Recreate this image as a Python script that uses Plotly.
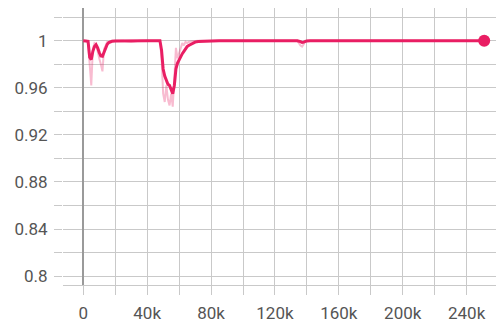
import plotly.graph_objects as go

steps_k = [0, 1, 2, 3, 4, 5, 6, 7, 8, 9, 10, 11, 12, 13, 14, 15, 16, 18, 20, 25, 30, 35, 40, 45,
           48, 49, 50, 51, 52, 53, 54, 55, 56, 57, 58, 59, 60, 61, 62, 63, 64, 65, 66, 68, 70,
           72, 75, 78, 80, 85, 90, 100, 110, 120, 130, 134, 136, 137, 138, 139, 140, 142, 145,
           150, 160, 180, 200, 220, 240, 251]

raw = [1.0, 1.0, 1.0, 0.998, 0.975, 0.962, 0.993, 0.998, 0.997, 0.99, 0.985, 0.98, 0.974,
       0.993, 0.997, 0.999, 0.999, 1.0, 1.0, 1.0, 0.999, 1.0, 1.0, 1.0,
       1.0, 0.985, 0.955, 0.948, 0.962, 0.95, 0.945, 0.955, 0.944, 0.968, 0.994, 0.985, 0.99,
       0.993, 0.998, 0.996, 0.999, 0.998, 0.999, 0.9995, 1.0,
       1.0, 1.0, 1.0, 1.0, 1.0, 1.0, 1.0, 1.0, 1.0, 1.0, 1.0, 0.996, 0.995, 0.997, 1.0, 1.0,
       1.0, 1.0, 1.0, 1.0, 1.0, 1.0, 1.0, 1.0, 1.0]

smoothed = [1.0, 1.0, 1.0, 0.9995, 0.986, 0.984, 0.991, 0.995, 0.9966, 0.994, 0.99, 0.987,
            0.9867, 0.99, 0.994, 0.997, 0.9985, 0.9995, 0.9998, 1.0, 0.9997, 1.0, 1.0, 1.0,
            1.0, 0.992, 0.976, 0.97, 0.966, 0.963, 0.962, 0.958, 0.955, 0.962, 0.976, 0.981,
            0.984, 0.987, 0.989, 0.991, 0.9935, 0.995, 0.996, 0.9975, 0.9988,
            0.9993, 0.9995, 0.9998, 1.0, 1.0, 1.0, 1.0, 1.0, 1.0, 1.0, 1.0, 0.9992, 0.9985,
            0.9988, 0.9995, 0.9998, 1.0, 1.0, 1.0, 1.0, 1.0, 1.0, 1.0, 1.0, 1.0]

steps = [s * 1000 for s in steps_k]
color = "#e91e63"
grid = "#c9c9c9"
font = dict(family="Roboto", size=17, color="#555555")

fig = go.Figure()
fig.add_trace(go.Scatter(x=steps, y=raw, mode="lines",
                         line=dict(color="rgba(233,30,99,0.3)", width=2),
                         hoverinfo="skip", showlegend=False))
fig.add_trace(go.Scatter(x=steps, y=smoothed, mode="lines",
                         line=dict(color=color, width=3),
                         showlegend=False))
fig.add_trace(go.Scatter(x=[steps[-1]], y=[smoothed[-1]], mode="markers",
                         marker=dict(color=color, size=12),
                         cliponaxis=False, showlegend=False))

fig.update_layout(
    width=496, height=318,
    margin=dict(l=55, r=0, t=0, b=41),
    paper_bgcolor="white", plot_bgcolor="white",
    font=font,
)
fig.update_xaxes(
    range=[-12700, 263400], dtick=40000, tick0=0,
    automargin=False,
    showgrid=True, gridcolor=grid, gridwidth=1,
    ticks="outside", ticklen=9, tickcolor=grid, tickwidth=1,
    minor=dict(dtick=20000, showgrid=True, gridcolor=grid, gridwidth=1,
               ticks="outside", ticklen=9, tickcolor=grid),
    showline=True, linecolor=grid, linewidth=1,
    zeroline=True, zerolinecolor="#9a9a9a", zerolinewidth=2,
    ticklabelstandoff=4,
    tickfont=font,
)
fig.update_yaxes(
    range=[0.7925, 1.0278], dtick=0.04, tick0=0.8,
    automargin=False,
    showgrid=True, gridcolor=grid, gridwidth=1,
    ticks="outside", ticklen=8, tickcolor=grid, tickwidth=1,
    minor=dict(dtick=0.02, showgrid=True, gridcolor=grid, gridwidth=1,
               ticks="outside", ticklen=8, tickcolor=grid),
    showline=False, zeroline=False,
    ticklabelstandoff=3,
    tickfont=font,
)

fig.write_html("out.html")
